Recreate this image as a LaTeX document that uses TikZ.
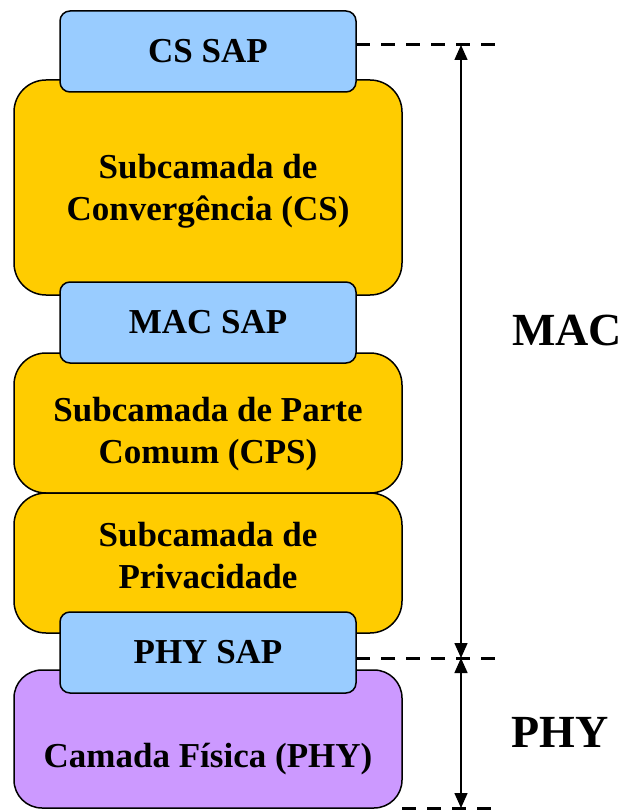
\documentclass[tikz,border=0pt]{standalone}
\usepackage{fontspec}
\setmainfont{Liberation Serif}
\usetikzlibrary{arrows.meta,calc}
\definecolor{sapblue}{RGB}{153,204,255}
\definecolor{subgold}{RGB}{255,204,0}
\definecolor{phyviolet}{RGB}{204,153,255}
\tikzset{
  boxline/.style={draw,line width=1.5pt,inner sep=0pt,outer sep=0pt,anchor=north west},
  sapbox/.style={boxline,fill=sapblue,rounded corners=10pt,minimum width=296pt,minimum height=81pt},
  subbox/.style={boxline,fill=subgold,rounded corners=32pt,minimum width=388pt,minimum height=#1},
  physbox/.style={boxline,fill=phyviolet,rounded corners=28pt,minimum width=388pt,minimum height=#1},
  lbl/.style={font=\fontsize{35}{42}\selectfont\bfseries,align=center},
  side/.style={font=\fontsize{46}{50}\selectfont\bfseries},
  guide/.style={line width=3pt,dash pattern=on 14pt off 11pt},
}

\begin{document}
\begin{tikzpicture}[x=1pt,y=-1pt,>={Triangle[length=15pt,width=13pt]}]
\useasboundingbox (0,0) rectangle (625,810);

% Sublayers
\node[subbox=215pt] (cs) at (14,80) {};
\node[subbox=140pt] (cps) at (14,353) {};
\node[subbox=140pt] (priv) at (14,493) {};
\node[physbox=138pt] (phy) at (14,670) {};

% Service access points
\node[sapbox] (cssap) at (60,11) {};
\node[sapbox] (macsap) at (60,282) {};
\node[sapbox] (physap) at (60,612) {};

% Texts
\node[lbl] (cssaptxt) at (cssap.center) {CS SAP};
\node[lbl] (cstxt) at ($(cs.center)+(0,4)$) {Subcamada de\\Convergência (CS)};
\node[lbl] (macsaptxt) at (macsap.center) {MAC SAP};
\node[lbl] (cpstxt) at ($(cps.center)+(0,11)$) {Subcamada de Parte\\Comum (CPS)};
\node[lbl] (privtxt) at ($(priv.center)+(0,-7)$) {Subcamada de\\Privacidade};
\node[lbl] (physaptxt) at (physap.center) {PHY SAP};
\node[lbl] (phytxt) at ($(phy.center)+(0,20)$) {Camada Física (PHY)};

% Extents
\coordinate (dtop) at (497,45);
\coordinate (dmid) at (497,658);
\coordinate (dbot) at (497,808);
\coordinate (atop) at (461,45);
\coordinate (amid) at (461,658);
\coordinate (abot) at (461,808);
\draw[guide] (cssap.east |- dtop) -- (dtop);
\draw[guide] (physap.east |- dmid) -- (dmid);
\draw[guide] (phy.east |- dbot) -- (dbot);
\draw[<->,line width=1.5pt] (atop) -- (amid);
\draw[<->,line width=1.5pt] (amid) -- (abot);

\node[side] (mac) at (567,330) {MAC};
\node[side] (phyl) at (560,732) {PHY};
\end{tikzpicture}
\end{document}
